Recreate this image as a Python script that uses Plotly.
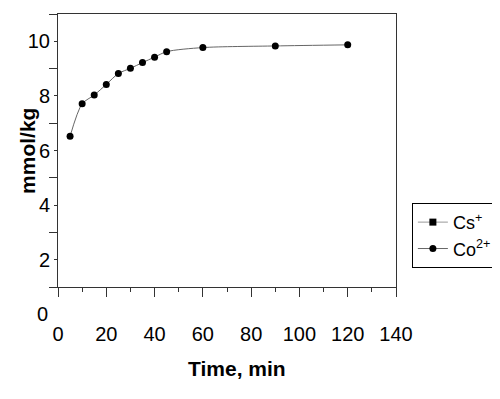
import plotly.graph_objects as go

time_min = [5, 10, 15, 20, 25, 30, 35, 40, 45, 60, 90, 120]
co_vals = [6.52, 7.71, 8.03, 8.42, 8.82, 9.01, 9.22, 9.42, 9.62, 9.77, 9.83, 9.87]
cs_time = [None]
cs_vals = [None]

x_ticks = [0, 20, 40, 60, 80, 100, 120, 140]
y_ticks = [2, 4, 6, 8, 10]

FONT = "Liberation Sans, Arial, sans-serif"

fig = go.Figure()
fig.add_trace(go.Scatter(
    x=cs_time, y=cs_vals, name="Cs<sup>+</sup>", mode="lines+markers",
    line=dict(color="#999999", width=1),
    marker=dict(symbol="square", size=7, color="black"),
))
fig.add_trace(go.Scatter(
    x=time_min, y=co_vals, name="Co<sup>2+</sup>", mode="lines+markers",
    line=dict(color="#666666", width=1, shape="spline", smoothing=0.8),
    marker=dict(symbol="circle", size=7, color="black"),
))

fig.update_layout(
    width=500, height=399,
    margin=dict(l=50, r=112, t=6, b=120, autoexpand=False),
    paper_bgcolor="white", plot_bgcolor="white",
    font=dict(family=FONT, size=20, color="black"),
    showlegend=True,
    legend=dict(
        x=1.047, y=0.308, xanchor="left", yanchor="top",
        bordercolor="black", borderwidth=1, bgcolor="white",
        font=dict(family=FONT, size=18, color="black"),
        tracegroupgap=0, itemwidth=30,
    ),
    xaxis=dict(
        range=[0, 140], tickvals=x_ticks, ticktext=[str(v) for v in x_ticks],
        ticks="outside", ticklen=9, tickwidth=1, tickcolor="#333",
        minor=dict(ticks="outside", ticklen=4, dtick=10, tick0=0, tickcolor="#333", showgrid=False),
        showline=True, linecolor="#333", linewidth=1, mirror=True,
        showgrid=False, zeroline=False, automargin=False,
        ticklabelstandoff=20,
        tickfont=dict(family=FONT, size=20),
    ),
    yaxis=dict(
        range=[1, 11], tickvals=y_ticks, ticktext=[str(v) for v in y_ticks],
        ticks="outside", ticklen=3, tickwidth=1, tickcolor="#333",
        minor=dict(ticks="outside", ticklen=8, dtick=2, tick0=1, tickcolor="#333", showgrid=False),
        showline=True, linecolor="#333", linewidth=1, mirror=True,
        showgrid=False, zeroline=False, automargin=False,
        tickfont=dict(family=FONT, size=20),
    ),
    annotations=[
        dict(
            text="0", xref="paper", yref="paper", x=-0.024, y=-0.1,
            xanchor="right", yanchor="middle", showarrow=False,
            font=dict(family=FONT, size=20, color="black"),
        ),
        dict(
            text="<b>mmol/kg</b>", xref="paper", yref="paper", x=-0.092, y=0.498,
            xanchor="center", yanchor="middle", showarrow=False, textangle=-90,
            font=dict(family=FONT, size=21, color="black"),
        ),
        dict(
            text="<b>Time, min</b>", xref="paper", yref="paper", x=0.53, y=-0.297,
            xanchor="center", yanchor="middle", showarrow=False,
            font=dict(family=FONT, size=21, color="black"),
        ),
    ],
)

fig.write_html("out.html")
